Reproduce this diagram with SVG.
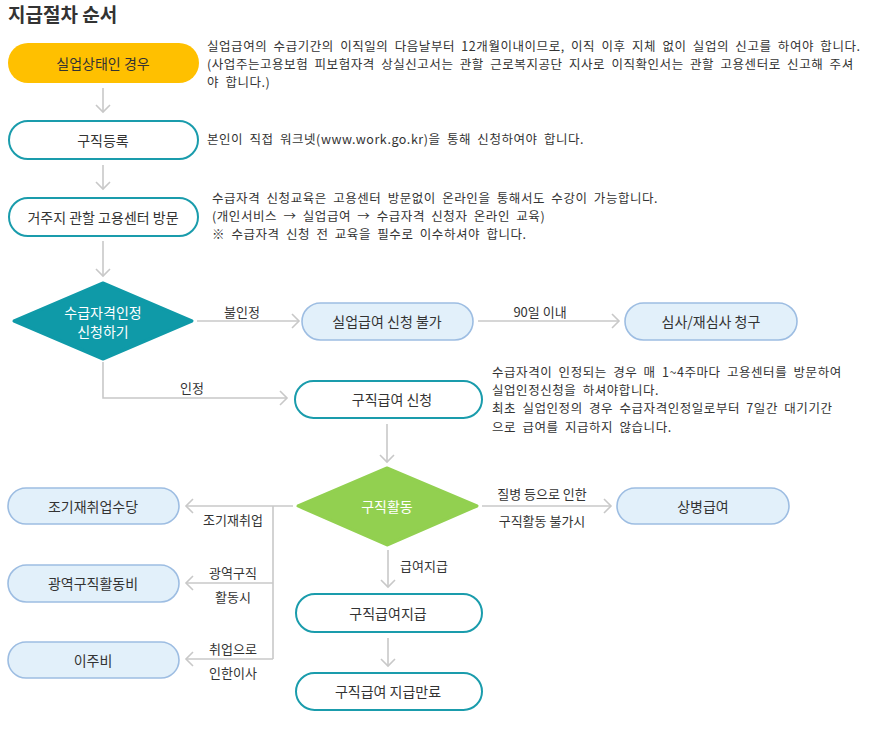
<svg xmlns="http://www.w3.org/2000/svg" width="869" height="737" viewBox="0 0 869 737">
<style>
text{font-family:"Noto Sans CJK KR","Noto Sans",sans-serif;fill:#333}
.t{font-size:19px;font-weight:bold}
.lbl{font-size:14px;text-anchor:middle;dominant-baseline:central}
.w{fill:#fff}
.d{font-size:12.5px;word-spacing:3px;letter-spacing:0.55px}
.e{font-size:13px;text-anchor:middle;dominant-baseline:central}
.teal{fill:#fff;stroke:#1a9cac;stroke-width:2}
.blue{fill:#e2f0fa;stroke:#9dbde2;stroke-width:1.6}
.ln{fill:none;stroke:#c8c8c8;stroke-width:1.6}
</style>
<defs>
<marker id="ah" markerUnits="userSpaceOnUse" markerWidth="20" markerHeight="20" viewBox="-10 -10 20 20" refX="0" refY="0" orient="auto">
<path d="M-7,-7 L0,0 L-7,7" fill="none" stroke="#c8c8c8" stroke-width="1.6"/>
</marker>
</defs>
<rect width="869" height="737" fill="#fff"/>
<text class="t" x="8" y="22">지급절차 순서</text>

<g id="connectors">
<line class="ln" x1="103" y1="88" x2="103" y2="112" marker-end="url(#ah)"/>
<line class="ln" x1="103" y1="165" x2="103" y2="189" marker-end="url(#ah)"/>
<line class="ln" x1="103" y1="241" x2="103" y2="276" marker-end="url(#ah)"/>
<line class="ln" x1="197" y1="321" x2="299" y2="321" marker-end="url(#ah)"/>
<text class="e" x="242" y="311">불인정</text>
<line class="ln" x1="478" y1="321" x2="619" y2="321" marker-end="url(#ah)"/>
<text class="e" x="540" y="311">90일 이내</text>
<polyline class="ln" points="103,362 103,398 287,398" marker-end="url(#ah)"/>
<text class="e" x="192" y="387">인정</text>
<line class="ln" x1="387" y1="424" x2="387" y2="462" marker-end="url(#ah)"/>
<line class="ln" x1="482" y1="506" x2="611" y2="506" marker-end="url(#ah)"/>
<text class="e" x="542" y="493">질병 등으로 인한</text>
<text class="e" x="542" y="520">구직활동 불가시</text>
<line class="ln" x1="293" y1="506" x2="186" y2="506" marker-end="url(#ah)"/>
<line class="ln" x1="273" y1="506" x2="273" y2="659"/>
<line class="ln" x1="273" y1="583" x2="186" y2="583" marker-end="url(#ah)"/>
<line class="ln" x1="273" y1="659" x2="186" y2="659" marker-end="url(#ah)"/>
<text class="e" x="233" y="519">조기재취업</text>
<text class="e" x="233" y="572">광역구직</text>
<text class="e" x="233" y="596">활동시</text>
<text class="e" x="233" y="648">취업으로</text>
<text class="e" x="233" y="672">인한이사</text>
<line class="ln" x1="388" y1="550" x2="388" y2="587" marker-end="url(#ah)"/>
<text class="e" x="424" y="565">급여지급</text>
<line class="ln" x1="388" y1="638" x2="388" y2="666" marker-end="url(#ah)"/>
</g>

<g id="n1">
<rect x="8" y="43" width="191" height="40" rx="20" fill="#ffc000"/>
<text class="lbl" x="103" y="63">실업상태인 경우</text>
</g>
<g id="n1-note">
<text class="d" x="207" y="50.5">실업급여의 수급기간의 이직일의 다음날부터 12개월이내이므로, 이직 이후 지체 없이 실업의 신고를 하여야 합니다.<tspan x="207" dy="18.2">(사업주는고용보험 피보험자격 상실신고서는 관할 근로복지공단 지사로 이직확인서는 관할 고용센터로 신고해 주셔</tspan><tspan x="207" dy="18.2">야 합니다.)</tspan></text>
</g>

<g id="n2">
<rect class="teal" x="9" y="121" width="189" height="38" rx="19"/>
<text class="lbl" x="103" y="140">구직등록</text>
</g>
<g id="n2-note">
<text class="d" x="207" y="144">본인이 직접 워크넷(www.work.go.kr)을 통해 신청하여야 합니다.</text>
</g>

<g id="n3">
<rect class="teal" x="9" y="198" width="189" height="38" rx="19"/>
<text class="lbl" x="103" y="217">거주지 관할 고용센터 방문</text>
</g>
<g id="n3-note">
<text class="d" x="212" y="203">수급자격 신청교육은 고용센터 방문없이 온라인을 통해서도 수강이 가능합니다.<tspan x="212" dy="18.2">(개인서비스 → 실업급여 → 수급자격 신청자 온라인 교육)</tspan><tspan x="212" dy="18.2">※ 수급자격 신청 전 교육을 필수로 이수하셔야 합니다.</tspan></text>
</g>

<g id="d1">
<polygon points="14,321 103,283 192,321 103,359" fill="#0f9aa8" stroke="#0f9aa8" stroke-width="3" stroke-linejoin="round"/>
<text class="lbl w" x="103" y="312">수급자격인정</text>
<text class="lbl w" x="103" y="331">신청하기</text>
</g>

<g id="n4">
<rect class="blue" x="302" y="303" width="171" height="37" rx="18.5"/>
<text class="lbl" x="387" y="321">실업급여 신청 불가</text>
</g>
<g id="n5">
<rect class="blue" x="625" y="303" width="172" height="37" rx="18.5"/>
<text class="lbl" x="711" y="321">심사/재심사 청구</text>
</g>

<g id="n6">
<rect class="teal" x="295" y="381" width="187" height="37" rx="18.5"/>
<text class="lbl" x="392" y="399">구직급여 신청</text>
</g>
<g id="n6-note">
<text class="d" x="492" y="377">수급자격이 인정되는 경우 매 1~4주마다 고용센터를 방문하여<tspan x="492" dy="18.2">실업인정신청을 하셔야합니다.</tspan><tspan x="492" dy="18.2">최초 실업인정의 경우 수급자격인정일로부터 7일간 대기기간</tspan><tspan x="492" dy="18.2">으로 급여를 지급하지 않습니다.</tspan></text>
</g>

<g id="d2">
<polygon points="298,506 387,468 477,506 387,545" fill="#92d050" stroke="#92d050" stroke-width="3" stroke-linejoin="round"/>
<text class="lbl w" x="387" y="506">구직활동</text>
</g>

<g id="n7">
<rect class="blue" x="617" y="488" width="172" height="36" rx="18"/>
<text class="lbl" x="703" y="506">상병급여</text>
</g>
<g id="n8">
<rect class="blue" x="8" y="488" width="171" height="36" rx="18"/>
<text class="lbl" x="93" y="506">조기재취업수당</text>
</g>
<g id="n9">
<rect class="blue" x="8" y="565" width="171" height="37" rx="18.5"/>
<text class="lbl" x="93" y="583">광역구직활동비</text>
</g>
<g id="n10">
<rect class="blue" x="8" y="642" width="171" height="36" rx="18"/>
<text class="lbl" x="93" y="660">이주비</text>
</g>

<g id="n11">
<rect class="teal" x="296" y="594" width="186" height="38" rx="19"/>
<text class="lbl" x="388" y="613">구직급여지급</text>
</g>
<g id="n12">
<rect class="teal" x="296" y="673" width="186" height="37" rx="18.5"/>
<text class="lbl" x="388" y="691">구직급여 지급만료</text>
</g>
</svg>
